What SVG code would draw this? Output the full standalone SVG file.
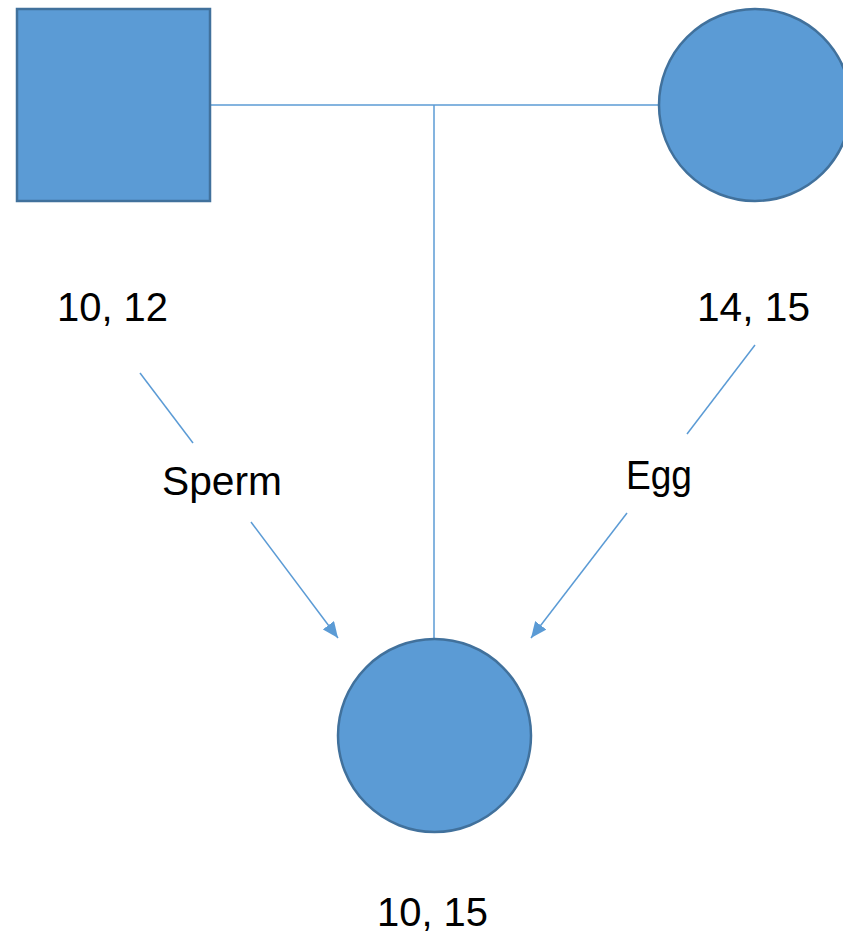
<svg xmlns="http://www.w3.org/2000/svg" width="843" height="936" viewBox="0 0 843 936">
<style>
.shape{fill:#5B9BD5;stroke:#41719C;stroke-width:2.5}
.line{stroke:#5B9BD5;stroke-width:1.5;fill:none}
.lbl{font-family:"Liberation Sans",Arial,sans-serif;font-size:40px;fill:#000}
</style>
<defs>
<marker id="arr" markerUnits="userSpaceOnUse" markerWidth="18" markerHeight="14" refX="16" refY="7" orient="auto">
<path d="M0,0 L16,7 L0,14 Z" fill="#5B9BD5"/>
</marker>
</defs>
<g id="connectors">
<line class="line" x1="210" y1="105" x2="659" y2="105"/>
<line class="line" x1="434" y1="105" x2="434" y2="639"/>
<line class="line" x1="140" y1="373" x2="193" y2="443"/>
<line class="line" x1="251" y1="522" x2="338" y2="638" marker-end="url(#arr)"/>
<line class="line" x1="755" y1="345" x2="687" y2="434"/>
<line class="line" x1="627" y1="513" x2="531" y2="638" marker-end="url(#arr)"/>
</g>
<g id="father">
<rect class="shape" x="17" y="9" width="193" height="192"/>
<text class="lbl" x="57" y="321" textLength="111" lengthAdjust="spacingAndGlyphs">10, 12</text>
</g>
<g id="mother">
<circle class="shape" cx="755" cy="105" r="96"/>
<text class="lbl" x="697" y="321" textLength="113" lengthAdjust="spacingAndGlyphs">14, 15</text>
</g>
<g id="child">
<circle class="shape" cx="434.5" cy="735.5" r="96.5"/>
<text class="lbl" x="377" y="926" textLength="111" lengthAdjust="spacingAndGlyphs">10, 15</text>
</g>
<g id="sperm-label">
<text class="lbl" x="162" y="495" textLength="120" lengthAdjust="spacingAndGlyphs">Sperm</text>
</g>
<g id="egg-label">
<text class="lbl" x="626" y="489" textLength="66" lengthAdjust="spacingAndGlyphs">Egg</text>
</g>
</svg>
